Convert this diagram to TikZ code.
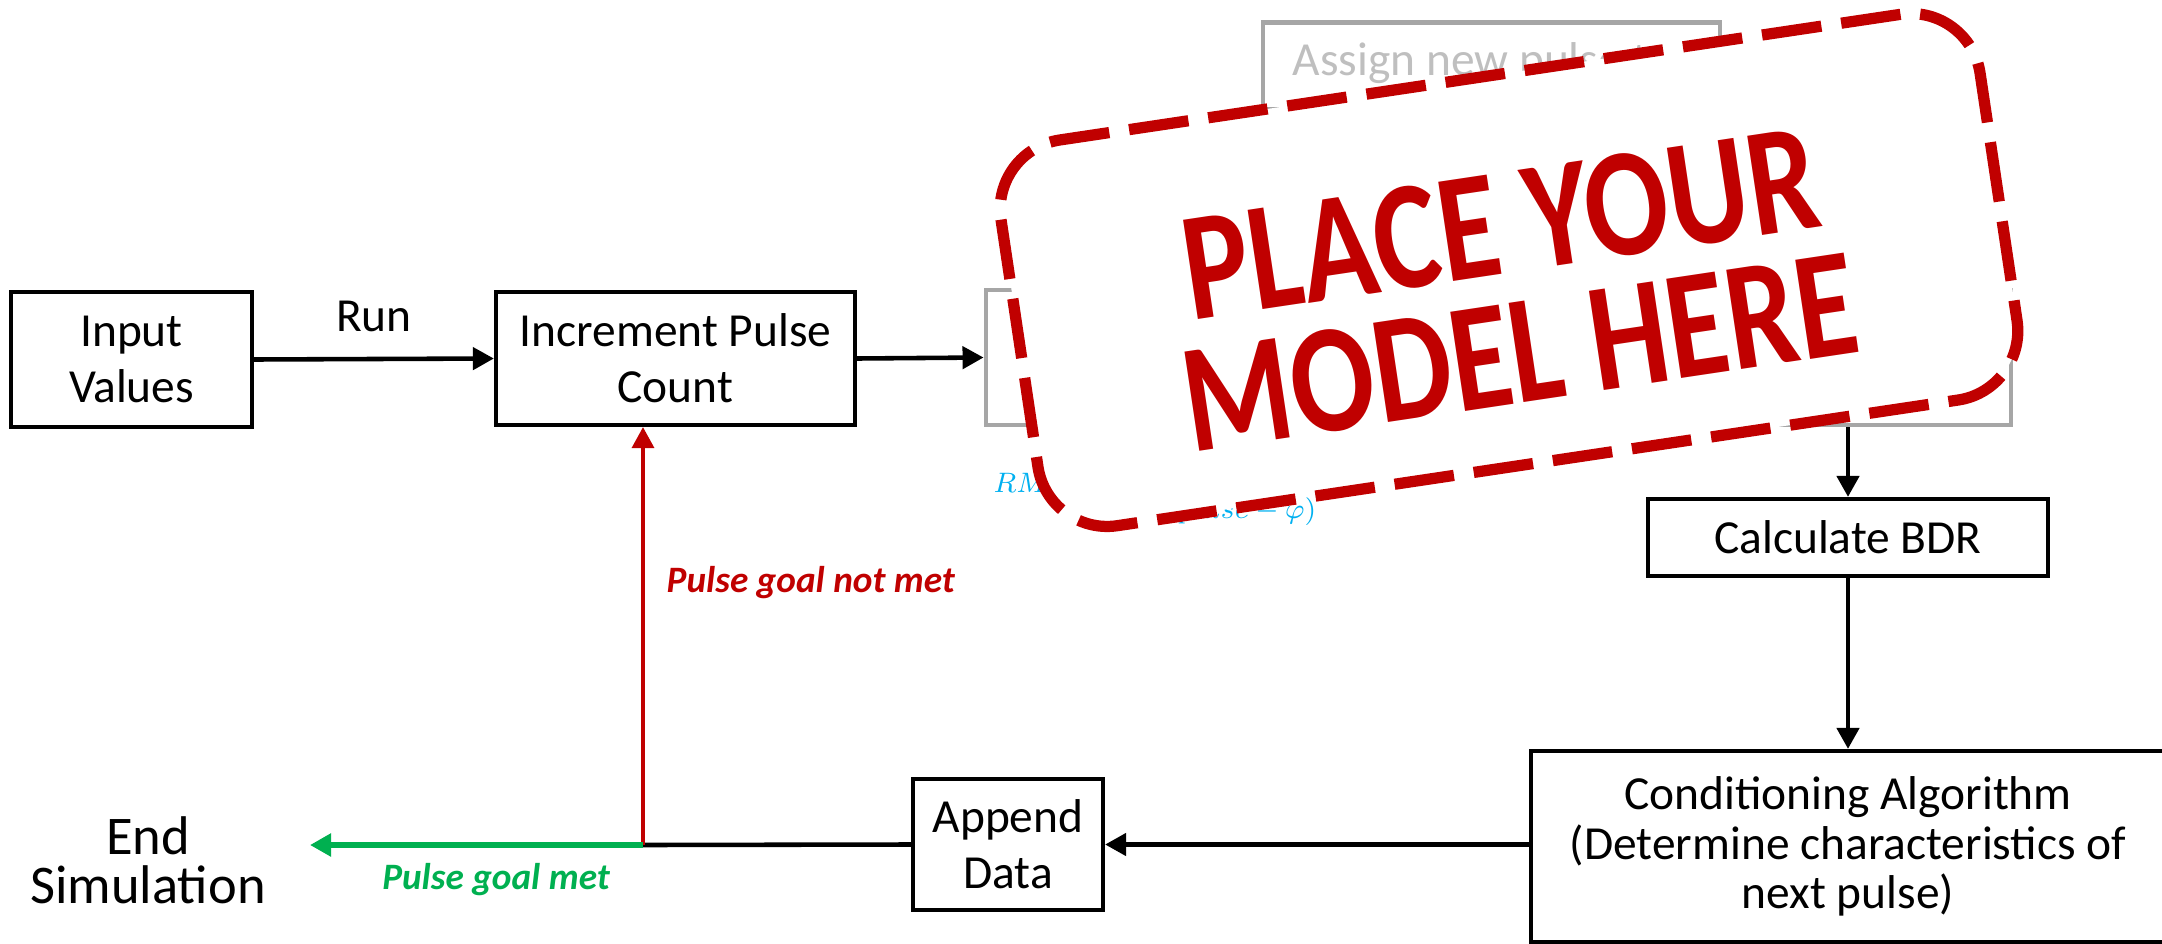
\documentclass[tikz,border=0pt]{standalone}
\usepackage{fontspec}
\setmainfont{Carlito}
\usetikzlibrary{arrows.meta,positioning}
\definecolor{stampred}{HTML}{C00000}
\definecolor{goalgreen}{HTML}{00B050}
\definecolor{mathcyan}{HTML}{00B0F0}
\definecolor{boxgrey}{HTML}{A6A6A6}
\definecolor{txtgrey}{HTML}{BFBFBF}
\tikzset{
  block/.style={draw, line width=1.2pt, align=center, inner sep=0pt,
    font=\fontsize{13.5}{16}\selectfont},
  greyblock/.style={draw=boxgrey, line width=1.4pt, inner sep=0pt},
  flag/.style={inner sep=0pt, font=\fontsize{10.6}{13}\selectfont\bfseries\itshape},
  stamp/.style={draw=stampred, fill=white, line width=3.2pt, rounded corners=7mm,
    dash pattern=on 6mm off 2mm},
  arr/.style={-{Triangle[length=2.1mm,width=2.2mm]}, line width=1.3pt}
}

\begin{document}
\begin{tikzpicture}
  \useasboundingbox (0,0) rectangle (21.62,-9.44);

  \node[block, minimum width=2.41cm, minimum height=1.35cm] (inp) at (1.315,-3.595) {Input\\Values};
  \node[block, minimum width=3.59cm, minimum height=1.33cm] (inc) at (6.755,-3.585) {Increment Pulse\\Count};
  \node[greyblock, minimum width=10.25cm, minimum height=1.35cm] (model) at (14.985,-3.575) {};
  \node[greyblock, minimum width=4.57cm, minimum height=0.87cm] (assign) at (14.915,-0.66) {};
  \node[anchor=base west, inner sep=0pt, txtgrey, font=\fontsize{13.5}{15}\selectfont] (assigntxt) at (12.92,-0.75) {Assign new pulse train};
  \node[anchor=base west, inner sep=0pt, mathcyan, font=\fontsize{8}{9}\selectfont] (rms) at (9.93,-4.92) {$RMS$};
  \node[anchor=base east, inner sep=0pt, mathcyan, font=\fontsize{8}{9}\selectfont] (rmsb) at (13.17,-5.18) {$(V_{in}-pulse-\varphi)$};
  \node[block, minimum width=4.0cm, minimum height=0.77cm] (bdr) at (18.48,-5.375) {Calculate BDR};
  \node[block, minimum width=6.34cm, minimum height=1.91cm, font=\fontsize{13.5}{14}\selectfont] (cond) at (18.48,-8.465) {Conditioning Algorithm\\(Determine characteristics of\\next pulse)};
  \node[block, minimum width=1.90cm, minimum height=1.31cm] (app) at (10.08,-8.445) {Append\\Data};
  \node[align=center, font=\fontsize{15.5}{14}\selectfont] (endsim) at (1.48,-8.60) {End\\Simulation};
  \coordinate (junc) at (6.43,-8.45);
  \coordinate (endtip) at (3.10,-8.45);

  \draw[arr] (inp.east) -- (inc.west) node[midway, above=1.3mm, font=\fontsize{13.5}{16}\selectfont] (run) {Run};
  \draw[arr] (inc.east) -- (model.west);
  \draw[arr] (bdr.north |- model.south) -- (bdr.north);
  \draw[arr] (bdr) -- (cond);
  \draw[arr] (cond.west |- app.east) -- (app.east);
  \draw[line width=1.3pt] (app.west) -- (junc);
  \draw[arr, stampred, line width=1pt] (junc) -- (junc |- inc.south);
  \draw[arr, goalgreen, line width=1.6pt] (junc) -- (endtip);
  \node[flag, stampred, anchor=west] (notmet) at (6.66,-5.83) {Pulse goal not met};
  \node[flag, goalgreen] (met) at (4.96,-8.80) {Pulse goal met};

  % stamp over the model
  \node[stamp, rotate=8.5, minimum width=9.9cm, minimum height=3.9cm] (stampbox) at (15.09,-2.70) {};
  \node[stampred, rotate=8.5, xscale=0.8, align=center,
        font=\fontsize{44}{37}\selectfont\bfseries] (stamptxt) at (15.10,-2.88) {PLACE YOUR\\MODEL HERE};
\end{tikzpicture}
\end{document}
